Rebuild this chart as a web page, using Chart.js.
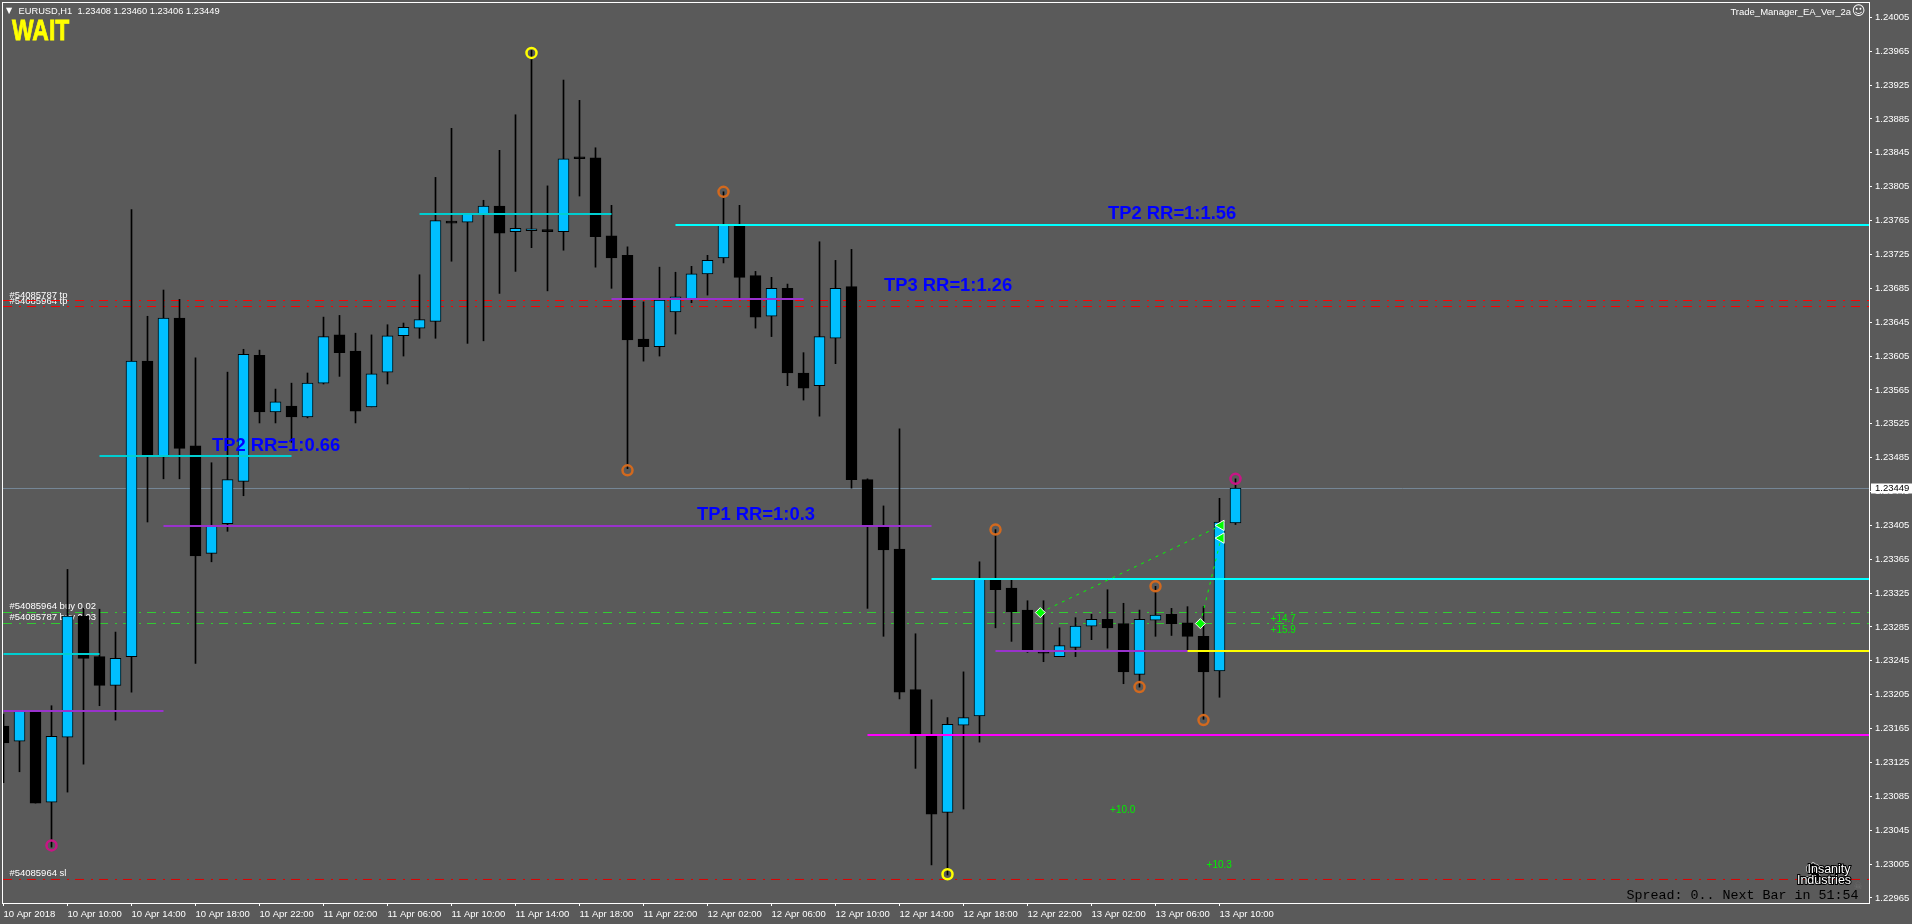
<!DOCTYPE html>
<html><head><meta charset="utf-8">
<style>html,body{margin:0;padding:0;background:#5a5a5a;overflow:hidden}canvas{display:block}</style>
<script src="https://cdn.jsdelivr.net/npm/chart.js@4/dist/chart.umd.min.js"></script>
</head><body><canvas id="c" width="1912" height="924"></canvas>
<script>
const opens=[1.23168,1.23150,1.23186,1.23078,1.23155,1.23298,1.23250,1.23216,1.23250,1.23599,1.23486,1.23650,1.23499,1.23372,1.23407,1.23457,1.23606,1.23539,1.23546,1.23533,1.23573,1.23630,1.23611,1.23545,1.23586,1.23629,1.23638,1.23646,1.23763,1.23763,1.23772,1.23782,1.23752,1.23753,1.23754,1.23752,1.23840,1.23839,1.23747,1.23724,1.23625,1.23616,1.23657,1.23672,1.23702,1.23721,1.23760,1.23700,1.23652,1.23685,1.23585,1.23570,1.23626,1.23687,1.23459,1.23403,1.23377,1.23211,1.23157,1.23066,1.23169,1.23180,1.23342,1.23331,1.23305,1.23255,1.23250,1.23261,1.23286,1.23294,1.23289,1.23229,1.23293,1.23300,1.23290,1.23274,1.23233,1.23408];
const highs=[1.23182,1.23186,1.23186,1.23192,1.23353,1.23307,1.23306,1.23279,1.23778,1.23652,1.23683,1.23672,1.23603,1.23479,1.23586,1.23613,1.23612,1.23566,1.23573,1.23585,1.23651,1.23653,1.23632,1.23630,1.23642,1.23644,1.23701,1.23816,1.23874,1.23773,1.23789,1.23848,1.23890,1.23966,1.23806,1.23931,1.23907,1.23851,1.23783,1.23734,1.23669,1.23710,1.23704,1.23711,1.23724,1.23799,1.23783,1.23705,1.23698,1.23690,1.23609,1.23740,1.23718,1.23731,1.23460,1.23428,1.23519,1.23277,1.23199,1.23178,1.23232,1.23362,1.23400,1.23341,1.23316,1.23316,1.23284,1.23296,1.23300,1.23329,1.23313,1.23305,1.23333,1.23307,1.23309,1.23309,1.23437,1.23460];
const lows=[1.23101,1.23114,1.23077,1.23025,1.23090,1.23123,1.23192,1.23175,1.23208,1.23409,1.23460,1.23460,1.23242,1.23362,1.23398,1.23440,1.23526,1.23526,1.23503,1.23532,1.23572,1.23581,1.23526,1.23545,1.23572,1.23605,1.23626,1.23626,1.23717,1.23620,1.23623,1.23679,1.23705,1.23733,1.23682,1.23730,1.23794,1.23710,1.23685,1.23472,1.23599,1.23605,1.23631,1.23668,1.23677,1.23715,1.23674,1.23638,1.23628,1.23570,1.23553,1.23534,1.23596,1.23449,1.23307,1.23274,1.23200,1.23118,1.23004,1.22992,1.23070,1.23149,1.23284,1.23268,1.23255,1.23244,1.23250,1.23250,1.23270,1.23260,1.23218,1.23214,1.23274,1.23275,1.23258,1.23176,1.23202,1.23406];
const closes=[1.23148,1.23186,1.23077,1.23156,1.23298,1.23248,1.23216,1.23248,1.23599,1.23488,1.23650,1.23496,1.23369,1.23405,1.23459,1.23607,1.23539,1.23551,1.23533,1.23573,1.23628,1.23609,1.23540,1.23584,1.23629,1.23639,1.23648,1.23765,1.23762,1.23773,1.23782,1.23750,1.23756,1.23755,1.23752,1.23838,1.23838,1.23746,1.23721,1.23624,1.23616,1.23671,1.23675,1.23702,1.23718,1.23760,1.23698,1.23651,1.23685,1.23585,1.23567,1.23628,1.23685,1.23459,1.23405,1.23376,1.23208,1.23157,1.23064,1.23170,1.23178,1.23342,1.23329,1.23303,1.23258,1.23254,1.23263,1.23286,1.23294,1.23284,1.23232,1.23294,1.23299,1.23289,1.23274,1.23232,1.23409,1.23449];

const xTickIndex=[0,4,8,12,16,20,24,28,32,36,40,44,48,52,56,60,64,68,72,76];
const xTickLabels=['10 Apr 2018','10 Apr 10:00','10 Apr 14:00','10 Apr 18:00','10 Apr 22:00','11 Apr 02:00','11 Apr 06:00','11 Apr 10:00','11 Apr 14:00','11 Apr 18:00','11 Apr 22:00','12 Apr 02:00','12 Apr 06:00','12 Apr 10:00','12 Apr 14:00','12 Apr 18:00','12 Apr 22:00','13 Apr 02:00','13 Apr 06:00','13 Apr 10:00'];
const yTicks=[1.24005,1.23965,1.23925,1.23885,1.23845,1.23805,1.23765,1.23725,1.23685,1.23645,1.23605,1.23565,1.23525,1.23485,1.23445,1.23405,1.23365,1.23325,1.23285,1.23245,1.23205,1.23165,1.23125,1.23085,1.23045,1.23005,1.22965];

const xMin=-0.03125, xMax=116.59375, yMin=1.22959, yMax=1.24022;
const lastBar=xMax, firstBar=xMin;
const currentPrice=1.234486;

// horizontal levels: [from bar, to bar, price]
const darkCyanLevels=[[0,6,1.232531],[6,18,1.234870],[26,38,1.237728]];
const purpleLevels=[[0,10,1.231858],[10,58,1.234043],[38,50,1.236724],[62,74,1.232566]];
const cyanLevels=[[42,lastBar,1.237598],[58,lastBar,1.233417]];
const yellowLevels=[[74,lastBar,1.232566]];
const magentaLevels=[[54,lastBar,1.231574]];
const tpPrices=[1.236706,1.236635];
const entryPrices=[1.233021,1.232891];
const slPrices=[1.229868];

// orders
const tradeLines=[[[64.8,1.23302],[76.1,1.23405]],[[74.8,1.23289],[76.1,1.23390]]];
const entryMarks=[[64.8,1.23302],[74.8,1.23289]];
const exitMarks=[[76.1,1.23405],[76.1,1.23390]];

// swing circles
const yellowRings=[[33,1.23963],[59,1.22993]];
const orangeRings=[[39,1.23470],[45,1.23799],[62,1.23400],[71,1.23214],[72,1.23333],[75,1.23175]];
const pinkRings=[[3,1.23027],[77,1.23460]];

const tpTexts=[['TP2 RR=1:0.66',13.03,1.23499],['TP1 RR=1:0.3',43.34,1.23417],['TP3 RR=1:1.26',55.03,1.23688],['TP2 RR=1:1.56',69.03,1.23773]];
const orderTexts=[['#54085787 tp',0.37,1.23677],['#54085964 tp',0.37,1.23670],['#54085964 buy 0.02',0.37,1.23309],['#54085787 buy 0.03',0.37,1.23296],['#54085964 sl',0.37,1.22994]];
const profitTexts=[['+10.0',69.16,1.23069],['+10.3',75.19,1.23004],['+14.7',79.19,1.23294],['+15.9',79.19,1.23281]];

const headerText='EURUSD,H1  1.23408 1.23460 1.23406 1.23449';
const SANS='"Liberation Sans",Arial,sans-serif';

const bars=opens.map((_,i)=>i);
const segs=(list,color,width,dash,order)=>list.map(s=>({type:'line',data:[{x:s[0],y:s[2]},{x:s[1],y:s[2]}],borderColor:color,borderWidth:width,borderDash:dash||[],pointRadius:0,order:order}));
const full=(prices,color,order)=>segs(prices.map(p=>[firstBar,lastBar,p]),color,1,[9,7,2,6],order);
const rings=(list,color)=>({type:'line',showLine:false,data:list.map(p=>({x:p[0],y:p[1]})),pointStyle:'circle',pointRadius:5,pointBorderWidth:2.5,pointBackgroundColor:'rgba(0,0,0,0)',pointBorderColor:color,order:1});
const arrows=(list,style,rot,r)=>({type:'line',showLine:false,data:list.map(p=>({x:p[0],y:p[1]})),pointStyle:style,pointRadius:r,pointRotation:rot,pointBorderWidth:1,pointBackgroundColor:'#00ff00',pointBorderColor:'#ffffff',order:0});

const datasets=[
  ...full(tpPrices,'#ff0000',20),
  ...full(entryPrices,'#32cd32',20),
  ...full(slPrices,'#e00000',20),
  {type:'line',data:[{x:firstBar,y:currentPrice},{x:lastBar,y:currentPrice}],borderColor:'#778899',borderWidth:1,pointRadius:0,order:20},
  {type:'bar',label:'wick',grouped:false,barThickness:1,data:bars.map(i=>({x:i,y:[lows[i],highs[i]]})),backgroundColor:'#000000',borderWidth:0,order:12},
  {type:'bar',label:'body',grouped:false,barThickness:11,minBarLength:2,data:bars.map(i=>({x:i,y:[opens[i],closes[i]]})),
    backgroundColor:bars.map(i=>closes[i]>opens[i]?'#00bfff':'#000000'),borderColor:'#000000',borderWidth:1,borderSkipped:false,order:11},
  ...segs(darkCyanLevels,'#00ced1',2,null,5),
  ...segs(purpleLevels,'#9932cc',2,null,5),
  ...segs(cyanLevels,'#00ffff',2,null,5),
  ...segs(yellowLevels,'#ffff00',2,null,4),
  ...segs(magentaLevels,'#ff00ff',2,null,5),
  ...tradeLines.map(l=>({type:'line',data:l.map(p=>({x:p[0],y:p[1]})),borderColor:'#00ff00',borderWidth:1,borderDash:[3,5],pointRadius:0,order:3})),
  arrows(entryMarks,'rectRot',0,5),arrows(exitMarks,'triangle',-90,6),
  rings(yellowRings,'#ffff00'),rings(orangeRings,'#d2691e'),rings(pinkRings,'#c71585')
];

function drawAt(ctx,chart,list,font,color){
  ctx.font=font;ctx.fillStyle=color;ctx.textAlign='left';ctx.textBaseline='middle';
  list.forEach(t=>ctx.fillText(t[0],chart.scales.x.getPixelForValue(t[1]),chart.scales.y.getPixelForValue(t[2])));
}
const overlay={
  id:'overlay',
  beforeDatasetsDraw(chart){
    const ctx=chart.ctx;ctx.save();
    drawAt(ctx,chart,orderTexts,'9.5px '+SANS,'#ffffff');
    ctx.restore();
  },
  afterDraw(chart){
    const ctx=chart.ctx,a=chart.chartArea;ctx.save();
    ctx.strokeStyle='#ffffff';ctx.lineWidth=1;
    ctx.strokeRect(a.left-0.5,a.top-0.5,a.right-a.left+1,a.bottom-a.top+1);
    drawAt(ctx,chart,tpTexts,'bold 18.4px '+SANS,'#0000ff');
    drawAt(ctx,chart,profitTexts,'10px '+SANS,'#00f000');
    ctx.textBaseline='middle';ctx.textAlign='left';
    // header
    ctx.fillStyle='#ffffff';ctx.font='8px "DejaVu Sans"';ctx.fillText('▼',a.left+3,a.top+8);
    ctx.font='9.3px '+SANS;ctx.fillText(headerText,a.left+15.5,a.top+8);
    // signal
    ctx.save();
    ctx.translate(a.left+9,a.top+29);ctx.scale(0.79,1);
    ctx.fillStyle='#ffff00';ctx.strokeStyle='#ffff00';ctx.lineWidth=0.8;ctx.font='bold 29px "Liberation Sans"';
    ctx.fillText('WAIT',0,0);ctx.strokeText('WAIT',0,0);
    ctx.restore();
    // EA name
    ctx.fillStyle='#ffffff';ctx.textAlign='right';ctx.font='9.5px '+SANS;ctx.fillText('Trade_Manager_EA_Ver_2a',a.right-18,a.top+9);
    ctx.font='13px "DejaVu Sans"';ctx.textAlign='center';ctx.fillText('☺',a.right-10.5,a.top+9);
    // footer
    ctx.textAlign='right';ctx.fillStyle='#000000';ctx.font='13.33px "Liberation Mono",monospace';ctx.fillText('Spread: 0.. Next Bar in 51:54',a.right-10.5,a.bottom-8);
    ctx.fillStyle='#6e6e6e';ctx.font='10px "DejaVu Sans"';ctx.textAlign='center';ctx.fillText('☠',a.right-11,a.bottom-17);
    // logo
    ctx.font='bold 26px '+SANS;ctx.lineWidth=1;ctx.strokeStyle='#ffffff';ctx.fillStyle='#000000';
    ctx.strokeText('$',a.right-56,a.bottom-28);ctx.fillText('$',a.right-56,a.bottom-28);
    ctx.font='12.5px '+SANS;ctx.lineWidth=2;ctx.strokeStyle='#000000';ctx.fillStyle='#ffffff';
    ctx.strokeText('Insanity',a.right-40,a.bottom-33);ctx.fillText('Insanity',a.right-40,a.bottom-33);
    ctx.strokeText('Industries',a.right-45,a.bottom-22);ctx.fillText('Industries',a.right-45,a.bottom-22);
    // current price flag
    const y=Math.floor(chart.scales.y.getPixelForValue(currentPrice))+0.5;
    ctx.fillStyle='#ffffff';ctx.fillRect(a.right+2,y-5,41,10);
    ctx.fillStyle='#000000';ctx.textAlign='left';ctx.font='9.5px '+SANS;ctx.fillText(currentPrice.toFixed(5),a.right+6,y);
    ctx.restore();
  }
};

new Chart(document.getElementById('c'),{
  type:'bar',
  data:{datasets},
  plugins:[overlay],
  options:{
    responsive:false,animation:false,events:[],
    layout:{autoPadding:false,padding:{left:3,top:3,right:0,bottom:0}},
    plugins:{legend:{display:false},tooltip:{enabled:false},title:{display:false}},
    scales:{
      x:{type:'linear',offset:false,min:xMin,max:xMax,
        afterBuildTicks(s){s.ticks=xTickIndex.map(v=>({value:v}));},
        afterFit(s){s.height=21;s.paddingLeft=0;s.paddingRight=0;},
        grid:{display:true,drawOnChartArea:false,drawTicks:true,tickLength:3,color:'#ffffff',offset:false},
        border:{display:true,color:'#ffffff'},
        ticks:{autoSkip:false,maxRotation:0,minRotation:0,align:'start',padding:3,color:'#ffffff',font:{family:SANS,size:9.5},
          callback(v,i){return xTickLabels[i];}}
      },
      y:{type:'linear',position:'right',min:yMin,max:yMax,
        afterBuildTicks(s){s.ticks=yTicks.map(v=>({value:v}));},
        afterFit(s){s.width=43;s.paddingTop=0;s.paddingBottom=0;},
        grid:{display:true,drawOnChartArea:false,drawTicks:true,tickLength:3,color:'#ffffff'},
        border:{display:true,color:'#ffffff'},
        ticks:{autoSkip:false,padding:3,color:'#ffffff',font:{family:SANS,size:9.5},
          callback(v){return v.toFixed(5);}}
      }
    }
  }
});
</script></body></html>
